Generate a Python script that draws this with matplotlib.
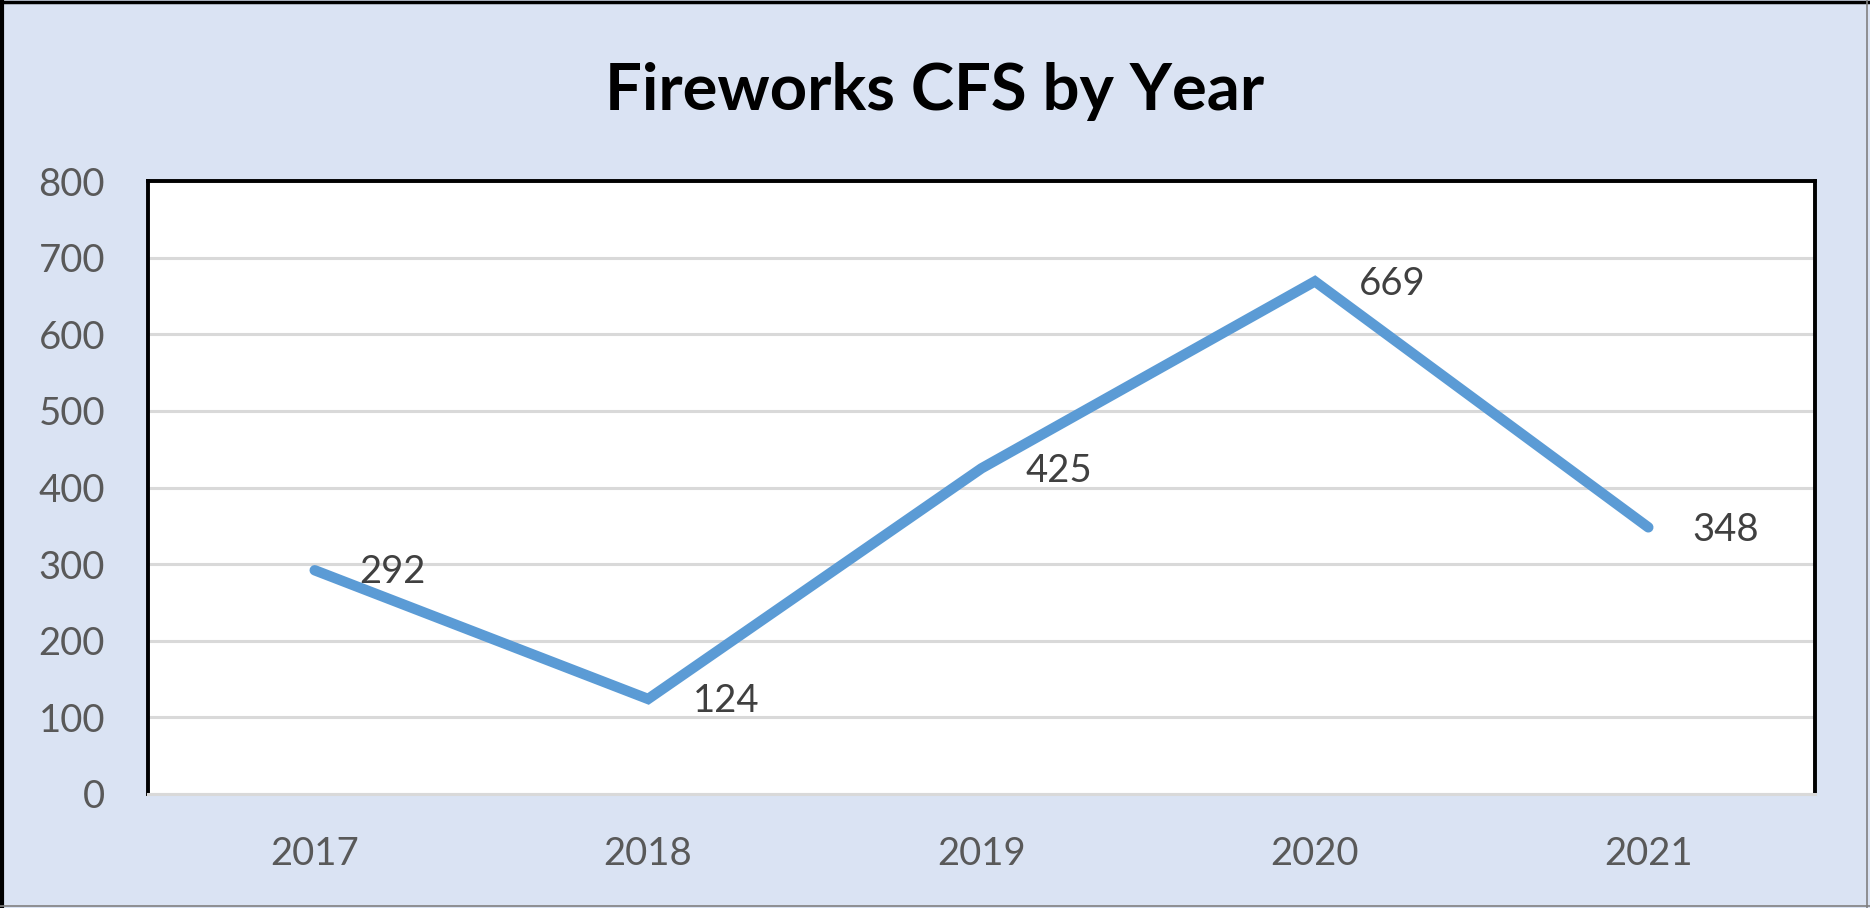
import numpy as np
import matplotlib
matplotlib.use('Agg')
import matplotlib.pyplot as plt
from matplotlib.lines import Line2D

# data
years = ['2017', '2018', '2019', '2020', '2021']
calls = [292, 124, 425, 669, 348]
yticks = [0, 100, 200, 300, 400, 500, 600, 700, 800]

W, H = 1870, 908
bg = '#DAE3F3'
line_col = '#5B9BD5'
grid_col = '#D9D9D9'

plt.rcParams['font.family'] = ['Lato', 'DejaVu Sans']

fig = plt.figure(figsize=(W/100, H/100), dpi=100, facecolor=bg)

# plot area in pixel terms
x0, x1 = 148, 1815
ytop, ybot = 181, 794
ax = fig.add_axes([x0/W, 1 - ybot/H, (x1-x0)/W, (ybot-ytop)/H])
ax.set_facecolor('white')

x = np.arange(len(years))
ax.plot(x, calls, color=line_col, lw=7.5, solid_capstyle='round',
        solid_joinstyle='miter', zorder=3)

for xi, v in zip(x, calls):
    ax.annotate(str(v), (xi, v), xytext=(32, -9.5), textcoords='offset points',
                ha='left', va='baseline', fontsize=27.5, color='#404040', zorder=4)

ax.set_xlim(-0.5, len(years) - 0.5)
ax.set_ylim(0, 800)
ax.set_yticks(yticks)
ax.set_xticks(x)
ax.set_xticklabels(years)
ax.tick_params(axis='both', length=0, labelsize=27.5, labelcolor='#595959')
ax.tick_params(axis='y', pad=31)
ax.tick_params(axis='x', pad=30)

ax.grid(axis='y', color=grid_col, lw=2.2)
ax.set_axisbelow(True)

for s in ['top', 'left', 'right']:
    ax.spines[s].set_color('black')
    ax.spines[s].set_linewidth(2.8)
ax.spines['bottom'].set_color(grid_col)
ax.spines['bottom'].set_linewidth(2.2)

fig.text(935/W, 1 - 110/H, 'Fireworks CFS by Year', ha='center', va='baseline',
         fontsize=47, fontweight='bold', color='black')

# outer border (screenshot frame)
fig.add_artist(Line2D([0, 1], [1 - 1.5/H, 1 - 1.5/H], color='black', lw=2.5, transform=fig.transFigure))
fig.add_artist(Line2D([2/W, 2/W], [0, 1], color='black', lw=3, transform=fig.transFigure))
fig.add_artist(Line2D([1 - 3/W, 1 - 3/W], [0, 1], color='#808080', lw=1.2, transform=fig.transFigure))
fig.add_artist(Line2D([0, 1], [2/H, 2/H], color='#808080', lw=1.2, transform=fig.transFigure))

fig.savefig('out.png', dpi=100, facecolor=bg)
